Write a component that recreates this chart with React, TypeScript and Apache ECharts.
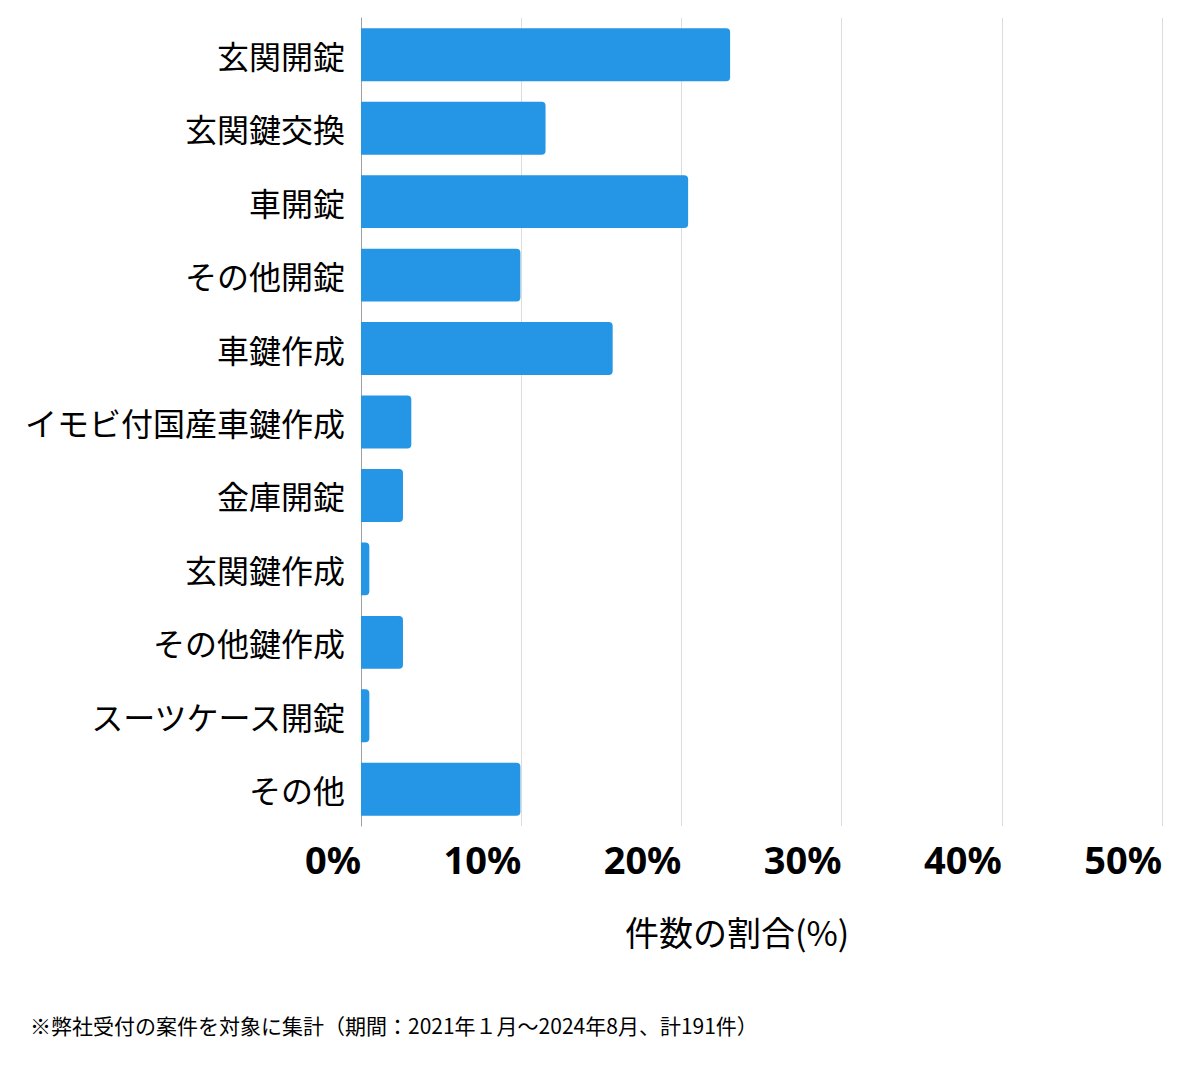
import { useEffect, useRef } from 'react';
import * as echarts from 'echarts';

const categories = [
  '玄関開錠',
  '玄関鍵交換',
  '車開錠',
  'その他開錠',
  '車鍵作成',
  'イモビ付国産車鍵作成',
  '金庫開錠',
  '玄関鍵作成',
  'その他鍵作成',
  'スーツケース開錠',
  'その他',
];
const shares = [23.04, 11.52, 20.42, 9.95, 15.71, 3.14, 2.62, 0.52, 2.62, 0.52, 9.95];
const axisName = '件数の割合(%)';
const note = '※弊社受付の案件を対象に集計（期間：2021年１月〜2024年8月、計191件）';

const FONT = '"Noto Sans CJK JP", "Noto Sans", sans-serif';

export default function App() {
  const chartRef = useRef<HTMLDivElement>(null);

  useEffect(() => {
    document.body.style.margin = '0';
    if (!chartRef.current) return;
    const chart = echarts.init(chartRef.current, null, { renderer: 'svg' });
    chart.setOption({
      animation: false,
      textStyle: { fontFamily: FONT },
      grid: { left: 361, right: 38, top: 18, bottom: 243, containLabel: false },
      xAxis: {
        type: 'value',
        min: 0,
        max: 50,
        interval: 10,
        axisLine: { show: false },
        axisTick: { show: false },
        splitLine: { lineStyle: { color: '#dcdcdc', width: 1 } },
        axisLabel: {
          formatter: '{value}%',
          align: 'right',
          margin: 14,
          fontSize: 38,
          fontWeight: 'bold',
          color: '#000',
          fontFamily: '"Noto Sans", sans-serif',
        },
      },
      yAxis: {
        type: 'category',
        inverse: true,
        data: categories,
        axisTick: { show: false },
        axisLine: { show: true, lineStyle: { color: '#a0a0a0', width: 1 } },
        axisLabel: { fontSize: 32, color: '#000', margin: 16, fontFamily: FONT },
      },
      series: [
        {
          type: 'bar',
          data: shares,
          barWidth: '72%',
          itemStyle: { color: '#2595e5', borderRadius: [0, 4, 4, 0] },
        },
      ],
      graphic: [
        {
          type: 'text',
          left: 625,
          top: 914,
          style: { text: axisName, fill: '#000', font: `34px ${FONT}` },
        },
        {
          type: 'text',
          left: 30,
          top: 1014,
          style: { text: note, fill: '#000', font: `21px ${FONT}` },
        },
      ],
    });
    return () => {
      chart.dispose();
    };
  }, []);

  return <div ref={chartRef} style={{ width: 1200, height: 1069 }} />;
}
